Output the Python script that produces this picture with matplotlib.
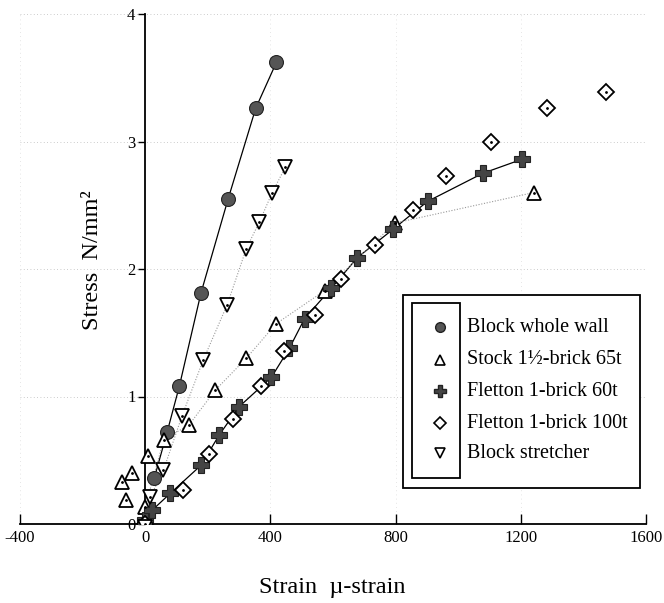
import matplotlib
matplotlib.use("Agg")
from matplotlib import pyplot as plt
from matplotlib.patches import Rectangle

# block whole wall
bww_x = [29, 70, 109, 178, 265, 353, 419]
bww_y = [0.36, 0.72, 1.08, 1.81, 2.55, 3.26, 3.62]

# stock 1.5 brick 65t
st_x = [-60, -73, -42, 9, 0, 59, 141, 224, 323, 418, 573, 797, 1242]
st_y = [0.19, 0.33, 0.40, 0.53, 0.13, 0.66, 0.78, 1.05, 1.30, 1.57, 1.83, 2.36, 2.60]
st_line_x = [0, 59, 141, 224, 323, 418, 573, 797, 1242]
st_line_y = [0.13, 0.66, 0.78, 1.05, 1.30, 1.57, 1.83, 2.36, 2.60]

# fletton 1 brick 60t
f60_x = [0, 23, 80, 178, 237, 300, 403, 461, 509, 595, 678, 791, 902, 1078, 1203]
f60_y = [0.03, 0.11, 0.24, 0.46, 0.70, 0.92, 1.15, 1.38, 1.61, 1.85, 2.09, 2.31, 2.53, 2.75, 2.86]

# fletton 1 brick 100t
f100_x = [0, 122, 205, 280, 370, 445, 541, 626, 733, 855, 960, 1104, 1283, 1472]
f100_y = [0.0, 0.27, 0.55, 0.82, 1.08, 1.36, 1.64, 1.92, 2.19, 2.46, 2.73, 3.00, 3.26, 3.39]

# block stretcher
bs_x = [0, 16, 58, 118, 186, 262, 323, 365, 406, 448]
bs_y = [-0.02, 0.21, 0.42, 0.85, 1.29, 1.72, 2.16, 2.37, 2.60, 2.80]

labels = ['Block whole wall', 'Stock 1\u00bd-brick 65t', 'Fletton 1-brick 60t',
          'Fletton 1-brick 100t', 'Block stretcher']

plt.rcParams['font.family'] = ['Liberation Serif', 'DejaVu Serif']

fig = plt.figure(figsize=(6.64, 6.03), dpi=100)
ax = fig.add_axes([20/664, 1 - 524/603, 626/664, 510/603])
ax.set_xlim(-400, 1600)
ax.set_ylim(0, 4)

# faint dotted grid
for gy in [1, 2, 3, 4]:
    ax.axhline(gy, color='#bbbbbb', lw=0.6, ls=(0, (1, 3)), zorder=0)
for gx in [-400, 400, 800, 1200, 1600]:
    ax.axvline(gx, color='#dddddd', lw=0.6, ls=(0, (1, 4)), zorder=0)

# lines
ax.plot(bww_x, bww_y, color='black', lw=0.9, zorder=2)
ax.plot(f60_x, f60_y, color='black', lw=0.9, zorder=2)
ax.plot(st_line_x, st_line_y, color='#999999', lw=0.8, ls=(0, (1, 1.5)), zorder=2)
ax.plot(bs_x, bs_y, color='#999999', lw=0.8, ls=(0, (1, 1.5)), zorder=2)

# markers
ms = 10
ax.plot(bww_x, bww_y, 'o', ms=ms, mfc='#555555', mec='#222222', mew=0.8, zorder=3)
ax.plot(st_x, st_y, '^', ms=ms, mfc='white', mec='black', mew=1.3, zorder=3)
ax.plot(st_x, st_y, '.', ms=2, color='black', zorder=4)
ax.plot(f60_x, f60_y, 'P', ms=11, mfc='#444444', mec='#222222', mew=0.8, zorder=3)
ax.plot(f100_x, f100_y, 'D', ms=8, mfc='white', mec='black', mew=1.3, zorder=3)
ax.plot(f100_x, f100_y, '.', ms=2, color='black', zorder=4)
ax.plot(bs_x, bs_y, 'v', ms=ms, mfc='white', mec='black', mew=1.3, zorder=3)
ax.plot(bs_x, bs_y, '.', ms=2, color='black', zorder=4)

# spines
ax.spines['top'].set_visible(False)
ax.spines['right'].set_visible(False)
ax.spines['left'].set_position(('data', 0))
ax.spines['bottom'].set_position(('data', 0))
ax.spines['left'].set_linewidth(1.3)
ax.spines['bottom'].set_linewidth(1.3)

ax.set_xticks([-400, 0, 400, 800, 1200, 1600])
ax.set_xticklabels(['-400', '0', '400', '800', '1200', '1600'])
ax.set_yticks([0, 1, 2, 3, 4])
ax.tick_params(axis='x', direction='in', length=7, width=1, labelsize=12, pad=4)
ax.tick_params(axis='y', direction='out', length=5, width=1, labelsize=12, pad=2)

fig.text(332/664, 1 - 588/603, 'Strain  \u00b5-strain', ha='center', va='center', fontsize=17.5)
fig.text(93/664, 1 - 260/603, 'Stress  N/mm\u00b2', ha='center', va='center',
         rotation=90, fontsize=17.5)

# legend box drawn by hand
def fx(px):
    return (px - 20) / 626

def fy(py):
    return (524 - py) / 510

ax.add_patch(Rectangle((fx(403), fy(488)), fx(640) - fx(403), fy(295) - fy(488),
                       transform=ax.transAxes, fill=True, fc='white', ec='black', lw=1.3, zorder=5))
ax.add_patch(Rectangle((fx(412), fy(478)), fx(460) - fx(412), fy(303) - fy(478),
                       transform=ax.transAxes, fill=False, ec='black', lw=1.3, zorder=6))
rows = [327, 360, 391, 423, 453]
leg_style = [
    dict(marker='o', ms=7, mfc='#555555', mec='#222222'),
    dict(marker='^', ms=7, mfc='white', mec='black', mew=1.2),
    dict(marker='P', ms=8, mfc='#444444', mec='#222222'),
    dict(marker='D', ms=6, mfc='white', mec='black', mew=1.2),
    dict(marker='v', ms=7, mfc='white', mec='black', mew=1.2),
]
for r, lab, sty in zip(rows, labels, leg_style):
    ax.plot([fx(440)], [fy(r)], ls='none', transform=ax.transAxes, zorder=7, **sty)
    ax.text(fx(467), fy(r), lab, transform=ax.transAxes, ha='left', va='center',
            fontsize=14.5, zorder=7)

fig.savefig('out.png', dpi=100)
